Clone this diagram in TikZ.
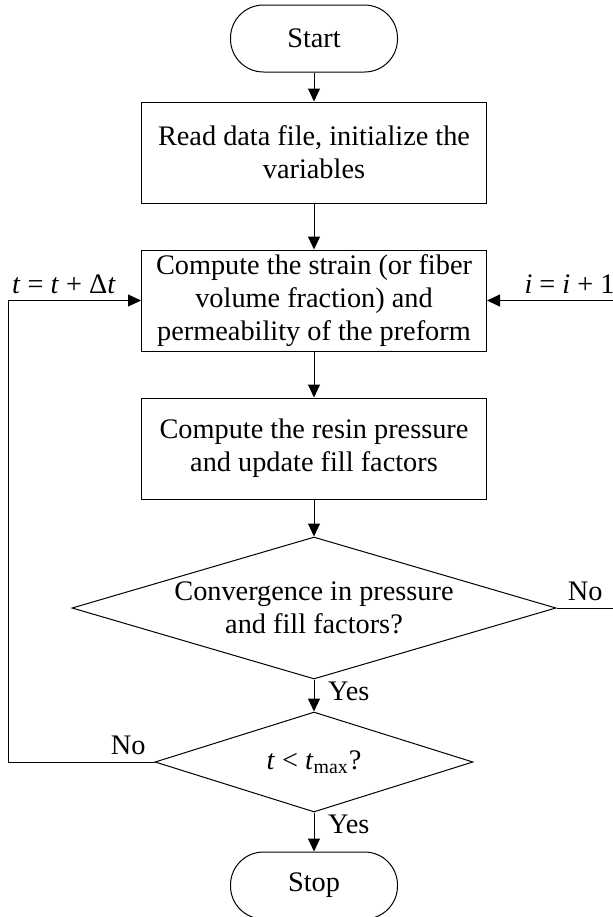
\documentclass[tikz,border=0pt]{standalone}
\usepackage{fontspec}
\setmainfont{Liberation Serif}
\usetikzlibrary{arrows.meta,positioning,shapes.geometric}

\begin{document}
\begin{tikzpicture}[x=0.5pt,y=-0.5pt,>={Triangle[length=6.5pt,width=6pt]},
                    line width=0.5pt,font=\fontsize{14.15}{16.5}\selectfont]

  \tikzstyle{terminal}=[rectangle,draw,rounded corners=16.5pt,minimum width=83.5pt,minimum height=33.5pt]
  \tikzstyle{block}=[rectangle,draw,align=center,minimum width=172.5pt,minimum height=50.5pt,inner sep=0pt]
  \tikzstyle{decision}=[diamond,draw,align=center,inner sep=0pt,aspect=3.2]

  \useasboundingbox (0,0) rectangle (613,917);
  \coordinate (LFT) at (8,0);
  \coordinate (RGT) at (614,0);

  \node[terminal] (STA) at (314,38.5) {Start};
  \node[block] (RDF) [below=14.5pt of STA] {Read data file, initialize the\\variables};
  \node[block] (STR) [below=23pt of RDF]   {Compute the strain (or fiber\\volume fraction) and\\permeability of the preform};
  \node[block] (RES) [below=23pt of STR]   {Compute the resin pressure\\and update fill factors};

  \node[decision,minimum width=242pt,minimum height=71pt,
        label={[align=center]center:Convergence in pressure\\and fill factors?}] (CNV) [below=18.5pt of RES] {};
  \node[decision,minimum width=159pt,minimum height=50pt] (TMX) [below=16pt of CNV] {\textit{t} < \textit{t}\textsubscript{max}?};
  \node[terminal] (STP) [below=19.5pt of TMX] {Stop};

  \path[->]
  (STA) edge (RDF)
  (RDF) edge (STR)
  (STR) edge (RES)
  (RES) edge (CNV)
  (CNV) edge node[right,pos=0.36,xshift=3.5pt] {Yes} (TMX)
  (TMX) edge node[right,pos=0.3,xshift=3.5pt]  {Yes} (STP)
  ;

  \draw (CNV.east) -- node[above] {No} (CNV.east -| RGT);
  \draw[->] (STR.east -| RGT) -- node[above,pos=0.35] {\textit{i} = \textit{i} + 1} (STR.east);
  \draw[->] (TMX.west) -- node[above,pos=0.18] {No} (TMX.west -| LFT)
    |- node[above,pos=0.71] {\textit{t} = \textit{t} + Δ\textit{t}} (STR.west);
\end{tikzpicture}
\end{document}
